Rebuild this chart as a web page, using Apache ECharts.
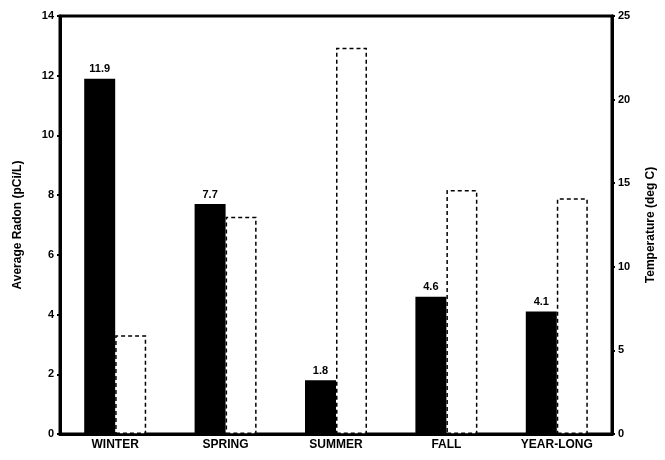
<!DOCTYPE html>
<html><head><meta charset="utf-8">
<script src="https://cdn.jsdelivr.net/npm/echarts@6/dist/echarts.min.js"></script>
<style>html,body{margin:0;padding:0;background:#fff}#c{width:665px;height:460px}</style>
</head><body><div id="c"></div>
<script>
const categories = ['WINTER', 'SPRING', 'SUMMER', 'FALL', 'YEAR-LONG'];
const radon = [11.9, 7.7, 1.8, 4.6, 4.1];
const temperature = [5.9, 13.0, 23.1, 14.6, 14.1];
const radonTicks = [0, 2, 4, 6, 8, 10, 12, 14];
const tempTicks = [0, 5, 10, 15, 20, 25];

const chart = echarts.init(document.getElementById('c'));
const font = 'Liberation Sans, Arial, sans-serif';
chart.setOption({
  animation: false,
  backgroundColor: '#fff',
  grid: { left: 60, right: 52, top: 16, bottom: 26, show: true, borderColor: '#000', borderWidth: 3 },
  xAxis: {
    type: 'category', data: categories,
    axisLine: { lineStyle: { color: '#000', width: 3 } },
    axisTick: { show: false },
    axisLabel: { color: '#000', fontFamily: font, fontWeight: 'bold', fontSize: 12, margin: 5 }
  },
  yAxis: [{
    type: 'value', min: radonTicks[0], max: radonTicks[radonTicks.length - 1], interval: 2,
    name: 'Average Radon (pCi/L)', nameLocation: 'middle', nameGap: 36,
    nameTextStyle: { color: '#000', fontFamily: font, fontWeight: 'bold', fontSize: 12 },
    axisLine: { show: true, lineStyle: { color: '#000', width: 3 } },
    axisTick: { show: true, inside: false, length: 3, lineStyle: { color: '#000', width: 2 } },
    axisLabel: { color: '#000', fontFamily: font, fontWeight: 'bold', fontSize: 11, margin: 6 },
    splitLine: { show: false }
  }, {
    type: 'value', min: tempTicks[0], max: tempTicks[tempTicks.length - 1], interval: 5,
    position: 'right',
    name: 'Temperature (deg C)', nameLocation: 'middle', nameGap: 33, nameRotate: 90,
    nameTextStyle: { color: '#000', fontFamily: font, fontWeight: 'bold', fontSize: 12 },
    axisLine: { show: true, lineStyle: { color: '#000', width: 3 } },
    axisTick: { show: true, length: 3, lineStyle: { color: '#000', width: 2 } },
    axisLabel: { color: '#000', fontFamily: font, fontWeight: 'bold', fontSize: 11, margin: 6 },
    splitLine: { show: false }
  }],
  series: [{
    type: 'bar', data: radon, yAxisIndex: 0, barWidth: 31, barGap: '0%',
    itemStyle: { color: '#000' },
    label: { show: true, position: 'top', distance: 4, color: '#000', fontFamily: font, fontWeight: 'bold', fontSize: 11,
      formatter: p => p.value.toFixed(1) }
  }, {
    type: 'bar', data: temperature, yAxisIndex: 1, barWidth: 31,
    itemStyle: { color: '#fff', borderColor: '#000', borderWidth: 1.5, borderType: [4, 3] }
  }]
});
</script></body></html>
